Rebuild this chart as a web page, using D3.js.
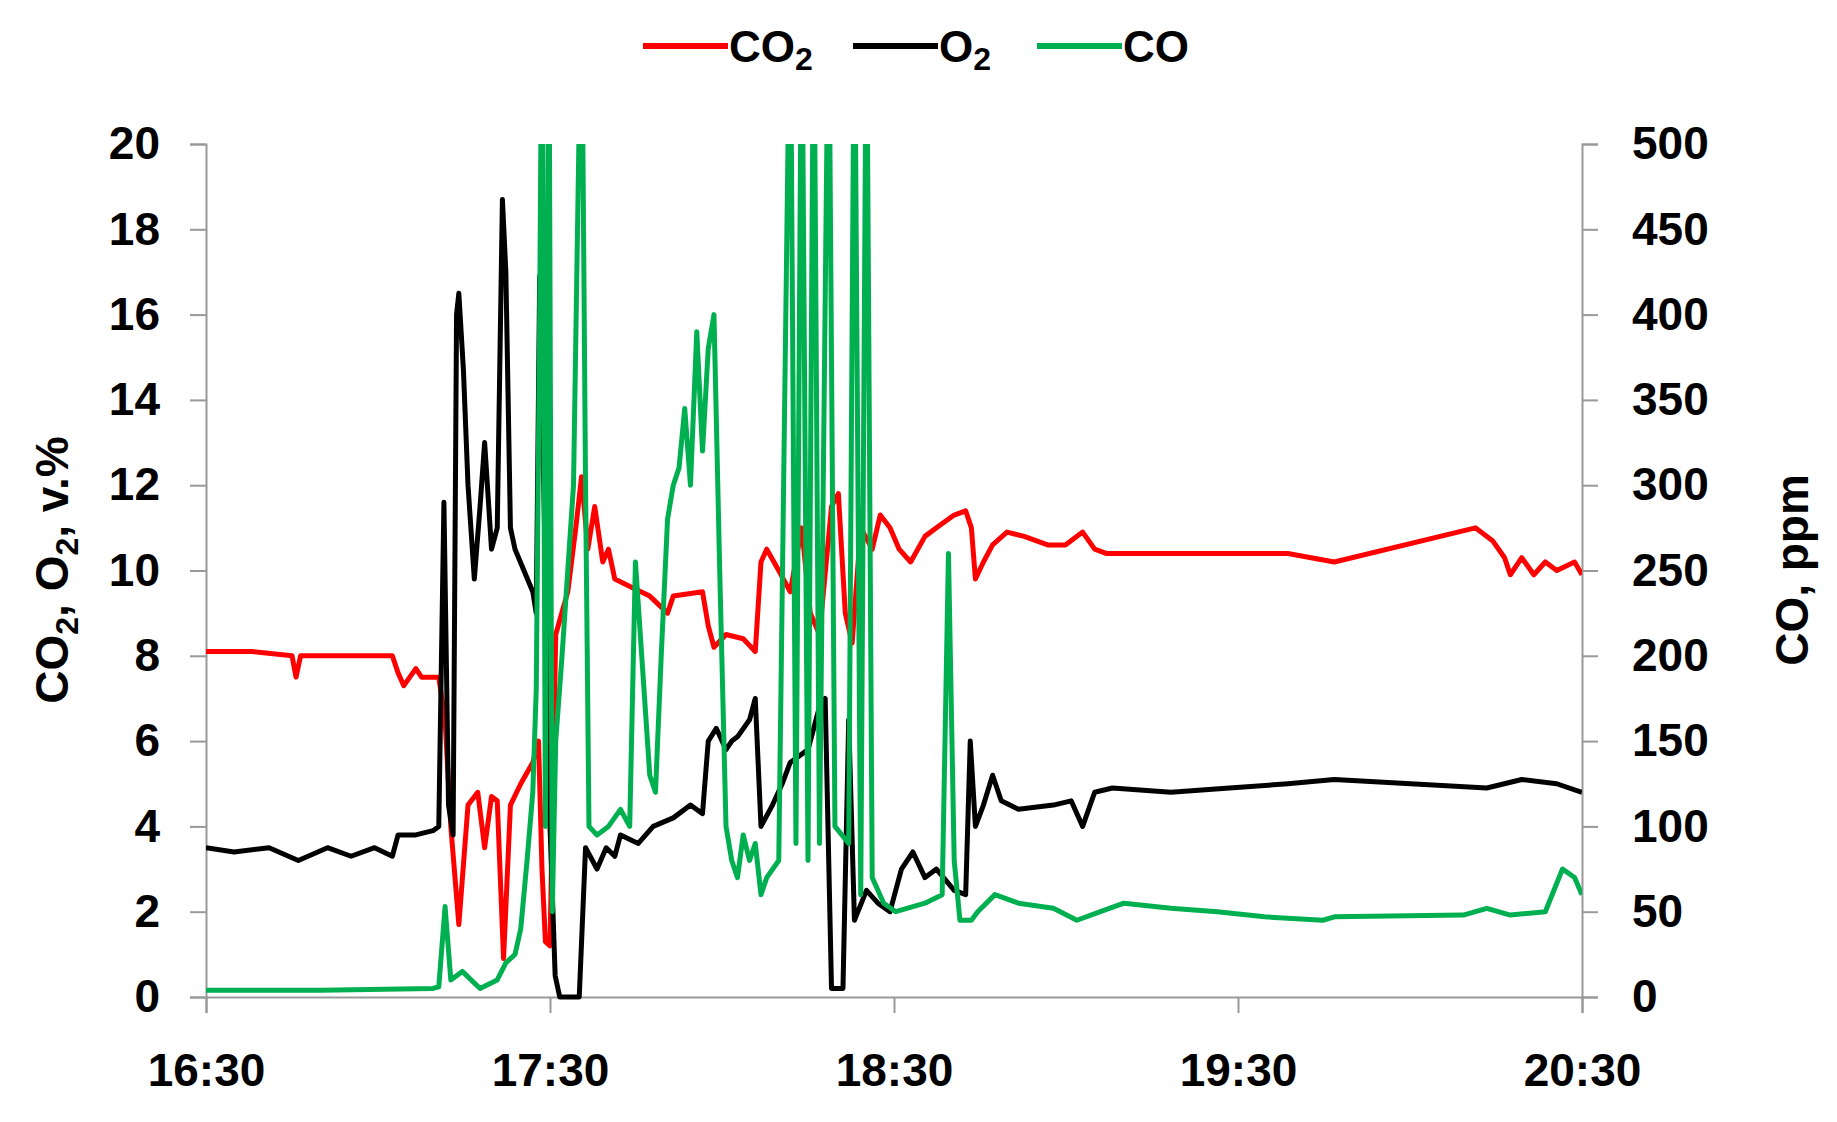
<!DOCTYPE html><html><head><meta charset="utf-8">
<script src="https://cdn.jsdelivr.net/npm/d3@7"></script>
<style>body{margin:0;background:#fff}text{font-family:"Liberation Sans",Arial,sans-serif;font-weight:bold}</style></head><body>
<svg id="c" width="1837" height="1122"></svg>
<script>
// times in minutes after 16:30
const xTickLabels=["16:30","17:30","18:30","19:30","20:30"];
const leftTicks=[0,2,4,6,8,10,12,14,16,18,20];
const rightTicks=[0,50,100,150,200,250,300,350,400,450,500];
const co2T=[0,8,15,15.7,16.5,25,32.5,33.5,34.5,36.6,37.6,40.6,41.7,42.7,44.1,45.7,47.4,48.6,49.8,50.8,51.9,53.1,54.9,57.0,58.0,58.6,59.2,60.0,61.0,63.1,64.5,65.5,66.6,67.8,69.2,70.2,71.3,74.3,77.4,80.5,81.5,86.6,87.6,88.6,90.7,93.7,95.8,96.8,97.8,99.9,101.9,103.9,105.4,107.0,109.1,110.3,111.5,112.7,114.2,116.2,117.6,119.3,120.9,122.9,125.4,127.4,130.5,132.5,133.5,134.2,135.6,137.2,139.7,142.7,146.8,149.9,152.9,155.0,157.0,168.3,178.5,188.7,196.8,221.4,224.4,226.5,227.5,229.5,231.6,233.6,235.6,238.7,240];
const co2V=[8.1,8.1,8.0,7.5,8.0,8.0,8.0,7.6,7.3,7.7,7.5,7.5,6.5,4.0,1.7,4.5,4.8,3.5,4.7,4.6,0.9,4.5,5.0,5.5,6.0,3.0,1.3,1.2,8.5,9.5,11.0,12.2,10.5,11.5,10.2,10.5,9.8,9.6,9.4,9.0,9.4,9.5,8.7,8.2,8.5,8.4,8.1,10.2,10.5,10.0,9.5,11.0,9.0,8.5,11.5,11.8,9.0,8.3,11.0,10.5,11.3,11.0,10.5,10.2,10.8,11.0,11.3,11.4,11.0,9.8,10.2,10.6,10.9,10.8,10.6,10.6,10.9,10.5,10.4,10.4,10.4,10.4,10.2,11.0,10.7,10.3,9.9,10.3,9.9,10.2,10.0,10.2,9.9];
const o2T=[0,4.9,11,16.1,21.2,25.3,29.4,32.5,33.5,36.6,39.6,40.6,41.5,42.3,43.1,43.7,44.1,44.9,45.7,46.8,47.8,48.6,49.8,50.8,51.7,52.3,53.1,53.9,57.0,57.6,58.2,59.2,60.0,60.9,61.7,65.1,66.2,68.2,69.8,71.3,72.3,75.4,78.0,81.5,84.5,86.6,87.6,89.0,90.7,91.7,92.7,94.8,95.8,96.8,98.8,100.5,101.9,105.0,107.0,108.0,109.1,111.1,112.1,113.1,115.2,117.2,119.3,121.3,123.3,125.4,127.4,130.5,132.5,133.3,134.2,135.6,137.2,138.7,141.7,147.8,150.9,152.9,155.0,158.1,168.3,178.5,188.7,196.8,223.4,229.5,235.6,240];
const o2V=[3.5,3.4,3.5,3.2,3.5,3.3,3.5,3.3,3.8,3.8,3.9,4.0,11.6,4.5,3.8,16.0,16.5,14.7,12,9.8,11.5,13.0,10.5,11.0,18.7,17,11,10.5,9.5,9.0,16.9,10,4,0.5,0,0,3.5,3.0,3.5,3.3,3.8,3.6,4.0,4.2,4.5,4.3,6.0,6.3,5.8,6.0,6.1,6.5,7.0,4.0,4.5,5.0,5.5,5.8,6.8,7.0,0.2,0.2,6.5,1.8,2.5,2.2,2.0,3.0,3.4,2.8,3.0,2.5,2.4,6.0,4.0,4.5,5.2,4.6,4.4,4.5,4.6,4.0,4.8,4.9,4.8,4.9,5.0,5.1,4.9,5.1,5.0,4.8];
const coT=[0,20,39.6,40.6,41.7,42.7,44.7,47.8,50.8,52.3,53.9,54.9,56.0,57.0,57.6,58.2,58.6,59.2,59.8,60.4,61.0,62.1,63.1,64.1,65.5,66.2,66.8,68.2,70.2,72.3,73.9,74.9,76.0,77.4,78.4,79.4,80.5,81.5,82.5,83.5,84.5,85.6,86.6,87.6,88.6,89.6,90.7,91.7,92.7,93.7,94.8,95.8,96.8,97.8,99.9,101.9,102.9,103.9,105.0,106.0,107.0,108.6,109.7,112.1,113.1,114.2,115.2,116.2,118.2,120.3,125.4,128.4,129.5,130.5,131.5,133.5,134.6,137.6,141.7,147.8,151.9,156.0,160.1,168.3,176.4,184.6,194.8,196.8,219.3,223.4,227.5,233.6,236.6,238.7,240];
const coV=[4,4,5,6,53,10,15,5,10,20,25,40,80,120,180,400,600,100,600,50,150,200,250,300,600,300,100,95,100,110,100,255,200,130,120,200,280,300,310,345,300,390,320,380,400,250,100,80,70,95,80,90,60,70,80,600,90,600,80,600,90,600,100,90,600,60,600,70,55,50,55,60,260,80,45,45,50,60,55,52,45,50,55,52,50,47,45,47,48,52,48,50,75,70,60];

const svg=d3.select("#c");
const L=206,R=1582,T=144,B=997;
const x=d3.scaleLinear().domain([0,240]).range([L,R]);
const yL=d3.scaleLinear().domain([0,20]).range([B,T]);
const yR=d3.scaleLinear().domain([0,500]).range([B,T]);
const grey="#999";
const fs=46;
function styleAxis(g){g.select(".domain").attr("stroke",grey).attr("stroke-width",2);g.selectAll(".tick line").attr("stroke",grey).attr("stroke-width",2);g.selectAll("text").attr("font-size",fs).attr("fill","#000").attr("font-family","Liberation Sans").attr("font-weight","bold");}
svg.append("g").attr("transform",`translate(${L},0)`).call(d3.axisLeft(yL).tickValues(leftTicks).tickSize(16).tickPadding(30)).call(styleAxis);
svg.append("g").attr("transform",`translate(${R},0)`).call(d3.axisRight(yR).tickValues(rightTicks).tickSize(16).tickPadding(34)).call(styleAxis);
svg.append("g").attr("transform",`translate(0,${B})`).call(d3.axisBottom(x).tickValues([0,60,120,180,240]).tickFormat((d,i)=>xTickLabels[i]).tickSize(16).tickPadding(40)).call(styleAxis);
svg.append("clipPath").attr("id","clip").append("rect").attr("x",L).attr("y",T).attr("width",R-L).attr("height",B-T+4);
const gl=svg.append("g").attr("clip-path","url(#clip)");
function draw(T_,V,y,c){gl.append("path").datum(T_.map((t,i)=>[t,V[i]])).attr("fill","none").attr("stroke",c).attr("stroke-width",5).attr("stroke-linejoin","round").attr("d",d3.line().x(d=>x(d[0])).y(d=>y(d[1])));}
draw(co2T,co2V,yL,"#ff0000");
draw(o2T,o2V,yL,"#000000");
draw(coT,coV,yR,"#00b050");
// axis titles
svg.append("text").attr("transform","translate(68,570) rotate(-90)").attr("text-anchor","middle").attr("font-size",46).html('CO<tspan dy="10" font-size="32">2</tspan><tspan dy="-10">, O</tspan><tspan dy="10" font-size="32">2</tspan><tspan dy="-10">, v.%</tspan>');
svg.append("text").attr("transform","translate(1808,570) rotate(-90)").attr("text-anchor","middle").attr("font-size",46).text("CO, ppm");
// legend
const leg=[{n:"CO",s:"2",c:"#ff0000",x:643},{n:"O",s:"2",c:"#000",x:853},{n:"CO",s:"",c:"#00b050",x:1037}];
leg.forEach(d=>{svg.append("line").attr("x1",d.x).attr("x2",d.x+85).attr("y1",46).attr("y2",46).attr("stroke",d.c).attr("stroke-width",6);
const t=svg.append("text").attr("x",d.x+86).attr("y",62).attr("font-size",44).attr("font-weight","normal");t.append("tspan").text(d.n);if(d.s)t.append("tspan").attr("dy",8).attr("font-size",32).text(d.s);});
</script></body></html>
